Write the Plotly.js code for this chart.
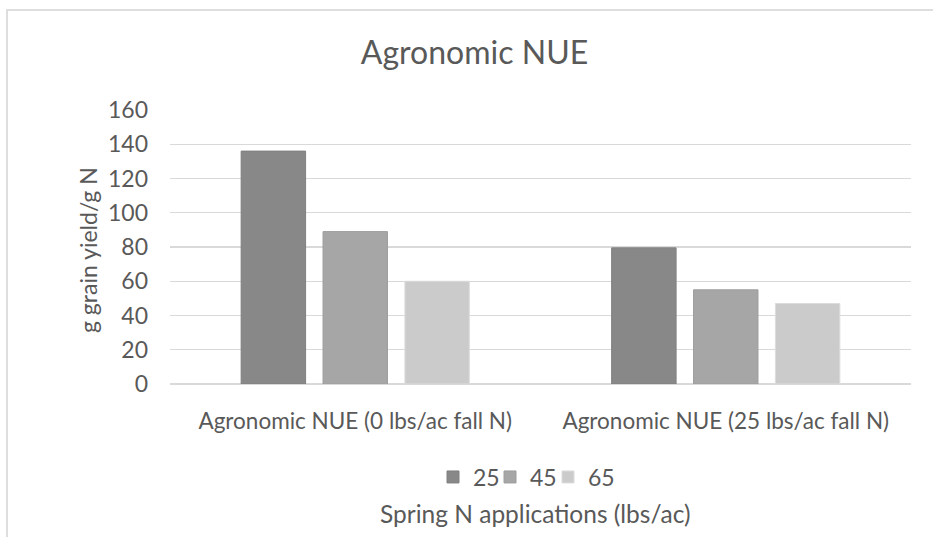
<!DOCTYPE html>
<html>
<head>
<meta charset="utf-8">
<script src="https://cdn.plot.ly/plotly-3.0.1.min.js"></script>
<style>
  html, body { margin: 0; padding: 0; background: #ffffff; }
  #frame { position: absolute; left: 6px; top: 9px; width: 1000px; height: 1000px;
           border-left: 2px solid #dedede; border-top: 2px solid #dedede; z-index: 0; }
  #chart { position: absolute; left: 0; top: 0; width: 933px; height: 537px; z-index: 1; }
</style>
</head>
<body>
<div id="frame"></div>
<div id="chart"></div>
<script>
const categories = ["Agronomic NUE (0 lbs/ac fall N)", "Agronomic NUE (25 lbs/ac fall N)"];
const seriesNames = ["25", "45", "65"];
const values25 = [136, 79.5];
const values45 = [89, 55];
const values65 = [60, 47];
const yTicks = [0, 20, 40, 60, 80, 100, 120, 140, 160];

const fills = ["#888888", "#a6a6a6", "#cbcbcb"];
const edges = ["#808080", "#9e9e9e", "#dcdcdc"];
const seriesValues = [values25, values45, values65];
const legendIds = ["legend", "legend2", "legend3"];
const legendLeftPx = [433, 490, 548];

const txt = "#595959";
const fam = "Lato, 'Open Sans', sans-serif";
const px2x = p => (p - 170) / 741;
const px2y = p => (384 - p) / 274;

const traces = seriesNames.map((name, i) => ({
  type: "bar",
  name: name,
  x: categories,
  y: seriesValues[i],
  legend: legendIds[i],
  marker: { color: fills[i], line: { color: edges[i], width: 1 } },
  hoverinfo: "skip"
}));

const legendBase = (leftPx) => ({
  orientation: "h",
  x: px2x(leftPx), xanchor: "left",
  y: px2y(477), yanchor: "middle",
  font: { family: fam, size: 23, color: txt },
  itemwidth: 30,
  bgcolor: "rgba(0,0,0,0)",
  borderwidth: 0
});

const layout = {
  width: 933,
  height: 537,
  margin: { l: 170, r: 22, t: 110, b: 153, pad: 0 },
  paper_bgcolor: "rgba(0,0,0,0)",
  plot_bgcolor: "rgba(0,0,0,0)",
  font: { family: fam, color: txt, size: 22 },
  title: {
    text: "Agronomic NUE",
    font: { family: fam, size: 32, color: txt },
    xref: "container", x: 474.5 / 933, xanchor: "center",
    yref: "container", y: 1 - 53 / 537, yanchor: "middle"
  },
  barmode: "group",
  bargap: 0.337,
  bargroupgap: 0.213,
  xaxis: {
    type: "category",
    showgrid: false,
    showline: false,
    zeroline: false,
    ticks: "",
    ticklabelstandoff: 21,
    tickfont: { family: fam, size: 22.5, color: txt }
  },
  yaxis: {
    range: [0, 160],
    tickvals: yTicks,
    ticktext: yTicks.map(String),
    showgrid: true,
    gridcolor: "#d9d9d9",
    gridwidth: 1.3,
    zeroline: true,
    zerolinecolor: "#d9d9d9",
    zerolinewidth: 1.3,
    showline: false,
    ticks: "",
    ticklabelstandoff: 21,
    tickfont: { family: fam, size: 23, color: txt }
  },
  showlegend: true,
  legend: legendBase(legendLeftPx[0]),
  legend2: legendBase(legendLeftPx[1]),
  legend3: legendBase(legendLeftPx[2]),
  annotations: [
    {
      text: "g grain yield/g N",
      xref: "paper", yref: "paper",
      x: px2x(88), y: px2y(250),
      xanchor: "center", yanchor: "middle",
      textangle: -90,
      showarrow: false,
      font: { family: fam, size: 23, color: txt }
    },
    {
      text: "Spring N applications (lbs/ac)",
      xref: "paper", yref: "paper",
      x: px2x(535), y: px2y(513),
      xanchor: "center", yanchor: "middle",
      showarrow: false,
      font: { family: fam, size: 24.5, color: txt }
    }
  ]
};

Plotly.newPlot("chart", traces, layout, { staticPlot: true, displayModeBar: false });
</script>
</body>
</html>
